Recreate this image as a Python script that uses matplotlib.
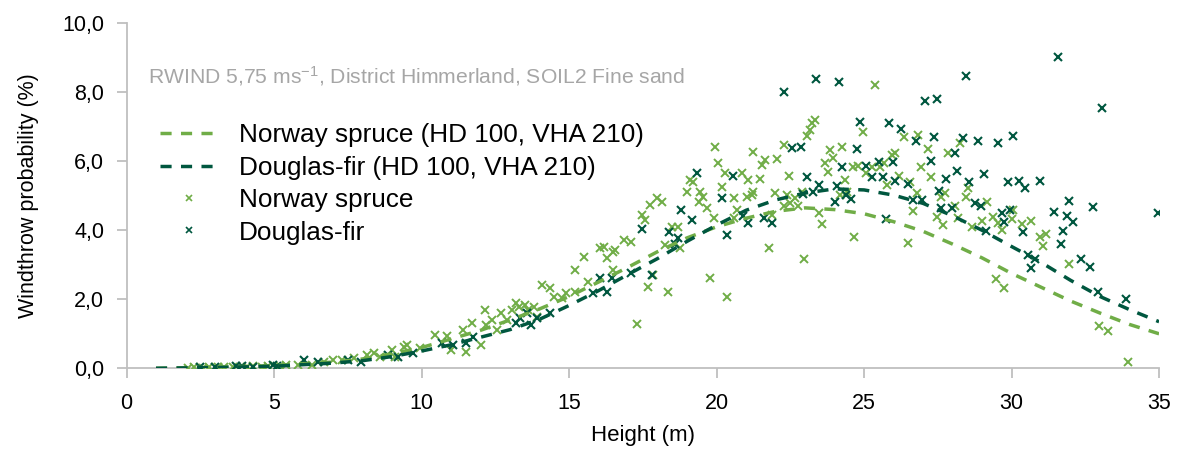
import matplotlib
matplotlib.use("Agg")
import matplotlib.pyplot as plt
from matplotlib.lines import Line2D

plt.rcParams['font.family'] = ['Liberation Sans', 'DejaVu Sans']
plt.rcParams['mathtext.default'] = 'regular'

LIGHT = '#70AD47'
DARK = '#00573F'
GREY = '#BFBFBF'

# fitted curves (HD 100, VHA 210)
curve_h = [1, 3, 5, 7, 8, 9, 10, 11, 12, 13, 14, 15, 16, 17, 18, 19, 20, 21,
           22, 23, 24, 25, 26, 27, 28, 29, 30, 31, 32, 33, 34, 35]
spruce_curve = [0.0, 0.03, 0.08, 0.18, 0.27, 0.42, 0.6, 0.85, 1.1, 1.4, 1.72,
                2.08, 2.5, 2.93, 3.38, 3.78, 4.1, 4.35, 4.55, 4.65, 4.6, 4.48,
                4.25, 3.97, 3.6, 3.2, 2.75, 2.35, 1.95, 1.6, 1.27, 1.0]
fir_curve = [0.0, 0.02, 0.06, 0.15, 0.22, 0.34, 0.5, 0.68, 0.9, 1.12, 1.42,
             1.82, 2.25, 2.72, 3.18, 3.68, 4.15, 4.58, 4.88, 5.08, 5.2, 5.17,
             5.02, 4.78, 4.42, 4.0, 3.53, 3.07, 2.55, 2.08, 1.7, 1.35]

# observed stands, Norway spruce
spruce_h = [2.1, 2.3, 2.6, 2.8, 3.1, 3.3, 3.6, 4.1, 4.3, 4.6, 4.8, 5.2, 5.4,
            5.8, 6.3, 6.7, 7.0, 7.3, 7.7, 8.15, 8.4, 8.6, 9.0, 9.1, 9.4, 9.5,
            9.95, 10.46, 10.86, 11.0,
            11.4, 11.5, 11.7, 12.0, 12.15, 12.2, 12.4, 12.55, 12.7, 12.9,
            13.06, 13.2, 13.3, 13.5, 13.6, 13.8, 13.9, 14.1, 14.36, 14.5,
            14.75, 14.9, 15.2, 15.2, 15.5, 15.65, 16.05, 16.2, 16.3, 16.5,
            16.5,
            16.56, 16.85, 17.1, 17.46, 17.58, 17.75, 17.97, 18.14, 17.68,
            17.85, 17.3, 18.36, 18.26, 18.48, 18.7, 18.76, 19.0, 19.1, 19.2,
            19.44, 19.55, 19.4, 19.67, 19.9, 19.78, 19.95, 20.05, 20.3, 20.2,
            20.37, 20.6, 20.7, 20.85, 21.07, 21.24, 21.24, 21.02, 20.6,
            25.37, 23.34, 23.23, 23.17, 23.06, 24.98, 22.27, 21.65, 21.53,
            22.04, 23.85, 24.24, 23.67, 23.95, 23.78, 22.46, 21.47, 21.2,
            21.98, 22.38, 22.66, 22.5, 22.77, 22.27, 22.89, 21.87, 23.47,
            23.56, 24.36, 24.2, 24.42, 24.67, 24.63, 24.8, 25.07, 25.27,
            25.55, 25.77, 25.94, 26.05, 21.78, 22.98,
            26.84, 26.36, 27.18, 28.25, 27.86, 25.66, 26.94, 27.27, 26.2,
            26.56, 26.79, 27.74, 27.6, 28.54, 28.46, 26.67, 27.46, 27.67,
            28.08, 28.18, 29.16, 28.65, 29.0, 29.38, 29.55, 29.66, 30.0,
            30.06, 30.35, 26.48, 29.46, 29.76,
            30.66, 30.97, 31.16, 31.06, 31.96, 32.97, 33.26, 33.96]
spruce_p = [0.02, 0.03, 0.02, 0.03, 0.04, 0.03, 0.05, 0.05, 0.06, 0.05, 0.08,
            0.06, 0.1, 0.1, 0.1, 0.18, 0.24, 0.24, 0.3, 0.38, 0.44, 0.33,
            0.53, 0.33, 0.62, 0.68, 0.59, 0.97, 0.94, 0.53,
            1.11, 0.48, 1.31, 0.68, 1.69, 1.25, 1.4, 1.11, 1.6, 1.4,
            1.69, 1.89, 1.79, 1.83, 1.69, 1.79, 1.5, 2.41, 2.32, 2.08,
            2.04, 2.18, 2.22, 2.85, 3.23, 2.51, 3.48, 3.52, 3.19, 3.38,
            2.85,
            3.43, 3.72, 3.67, 4.44, 4.3, 4.73, 4.93, 4.83, 2.37,
            2.7, 1.28, 2.22, 3.57, 4.1, 4.1, 3.48, 5.12, 5.46, 5.41,
            5.12, 4.97, 4.83, 4.64, 4.35, 2.61, 6.42, 5.94, 5.65, 5.26,
            2.06, 4.93, 4.6, 5.65, 5.46, 6.28, 5.12, 4.97, 4.35,
            8.21, 7.2, 7.1, 6.9, 6.73, 6.86, 6.47, 6.04, 5.89,
            6.07, 6.33, 6.42, 5.94, 6.1, 5.7, 5.56, 5.49, 5.02,
            5.08, 5.02, 4.93, 4.78, 4.69, 4.69, 5.12, 4.44, 4.51,
            4.18, 5.46, 5.02, 5.12, 3.81, 5.84, 5.86, 5.65, 5.84,
            5.84, 5.31, 6.18, 6.24, 3.5, 3.16,
            6.76, 6.7, 6.35, 6.52, 6.23, 5.94, 5.83, 5.54, 5.57,
            5.41, 5.09, 5.07, 4.96, 5.22, 4.96, 4.57, 4.38, 4.15,
            4.7, 4.35, 4.83, 4.1, 4.27, 4.39, 4.2, 4.01, 4.32,
            4.59, 4.18, 3.62, 2.58, 2.34,
            4.28, 3.81, 3.88, 3.55, 3.01, 1.23, 1.09, 0.19]

# observed stands, Douglas-fir
fir_h = [2.5, 3.0, 3.7, 3.9, 4.3, 4.95, 5.1, 6.0, 6.5, 7.5, 7.95, 8.85, 9.2,
         9.7, 10.7,
         11.07, 11.5, 11.75, 13.2, 13.35, 13.57, 13.7, 13.9, 14.36, 15.8,
         16.05, 16.3, 16.45,
         17.1, 17.8, 17.46, 18.4, 18.7, 18.8, 19.16, 19.33, 20.2, 20.35,
         20.56, 20.9, 21.07, 21.6, 21.87, 18.6,
         22.27, 23.37, 24.15, 24.87, 25.85, 22.55, 22.86, 24.75, 23.06,
         23.47, 23.26, 22.93, 24.07, 24.24, 24.0, 24.4, 24.56, 25.07, 25.5,
         25.27, 25.65, 25.97, 26.05, 25.75,
         28.46, 27.07, 27.46, 26.25, 26.76, 27.37, 28.37, 28.85, 29.55,
         30.06, 28.08, 27.26, 26.48, 28.16, 27.77, 29.08, 28.57, 29.87,
         30.26, 30.46, 27.55, 26.67, 26.98, 27.61, 27.99, 28.76, 28.96,
         29.13, 29.66, 29.95, 29.76, 30.38,
         31.57, 33.06, 30.97, 31.96, 32.77, 31.45, 31.87, 32.07, 31.76,
         31.67, 30.57, 30.8, 30.66, 32.36, 32.66, 32.94, 33.88, 34.96]
fir_p = [0.03, 0.04, 0.06, 0.08, 0.05, 0.1, 0.08, 0.24, 0.18, 0.24, 0.18,
         0.39, 0.33, 0.45, 0.73,
         0.68, 0.73, 0.92, 1.31, 1.45, 1.6, 1.25, 1.45, 1.6, 2.18,
         2.61, 2.22, 2.61,
         2.76, 2.7, 4.05, 3.94, 3.78, 4.59, 4.3, 5.65, 4.93, 3.86,
         5.56, 4.41, 4.22, 4.35, 4.22, 3.6,
         8.02, 8.39, 8.31, 7.14, 7.12, 6.38, 6.42, 6.36, 5.54,
         5.31, 5.12, 5.05, 5.28, 5.83, 4.83, 5.02, 4.9, 5.86, 5.99,
         5.54, 5.54, 5.99, 5.44, 4.33,
         8.48, 7.76, 7.8, 6.94, 6.59, 6.71, 6.67, 6.59, 6.52,
         6.73, 6.25, 6.02, 5.34, 5.72, 5.48, 5.62, 5.39, 5.39,
         5.44, 5.24, 5.14, 4.88, 4.88, 4.64, 4.64, 4.78, 4.69,
         3.98, 4.51, 4.59, 4.23, 3.96,
         9.03, 7.54, 5.43, 4.85, 4.67, 4.54, 4.4, 4.25, 3.99,
         3.6, 3.28, 3.16, 2.9, 3.16, 2.93, 2.22, 2.0, 4.51]

yticks = [0, 2, 4, 6, 8, 10]
xticks = [0, 5, 10, 15, 20, 25, 30, 35]

fig = plt.figure(figsize=(11.79, 4.5), dpi=100)
ax = fig.add_axes([0.1073, 0.1816, 0.8758, 0.7666])

ax.plot(spruce_h, spruce_p, ls='none', marker='x', ms=6.3, mew=1.4,
        color=LIGHT, zorder=3)
ax.plot(fir_h, fir_p, ls='none', marker='x', ms=6.3, mew=1.5,
        color=DARK, zorder=3)
ax.plot(curve_h, spruce_curve, color=LIGHT, lw=2.5, dashes=(3.2, 2.7),
        zorder=4)
ax.plot(curve_h, fir_curve, color=DARK, lw=2.5, dashes=(3.2, 2.7), zorder=4)

ax.set_xlim(0, 35)
ax.set_ylim(0, 10)
ax.set_xticks(xticks)
ax.set_yticks(yticks)
ax.set_yticklabels([f"{v:.1f}".replace('.', ',') for v in yticks])
for side in ['top', 'right']:
    ax.spines[side].set_visible(False)
for side in ['left', 'bottom']:
    ax.spines[side].set_color(GREY)
    ax.spines[side].set_linewidth(1.3)
ax.tick_params(axis='both', colors=GREY, labelcolor='black', labelsize=15.5,
               length=7, width=1.3, direction='out')
ax.tick_params(axis='x', pad=11)
ax.tick_params(axis='y', pad=9)
ax.set_xlabel("Height (m)", fontsize=16, labelpad=8)
ax.set_ylabel("Windthrow probability (%)", fontsize=15.5, labelpad=17)

ax.text(0.021, 0.848, "RWIND 5,75 ms$^{-1}$, District Himmerland, SOIL2 Fine sand",
        transform=ax.transAxes, fontsize=15.2, color='#A6A6A6', va='center')

handles = [
    Line2D([], [], color=LIGHT, lw=2.5, dashes=(3.2, 2.7)),
    Line2D([], [], color=DARK, lw=2.5, dashes=(3.2, 2.7)),
    Line2D([], [], ls='none', marker='x', ms=4, mew=1.2, color=LIGHT),
    Line2D([], [], ls='none', marker='x', ms=4, mew=1.2, color=DARK),
]
labels = ["Norway spruce (HD 100, VHA 210)", "Douglas-fir (HD 100, VHA 210)",
          "Norway spruce", "Douglas-fir"]
ax.legend(handles, labels, loc='upper left', bbox_to_anchor=(0.022, 0.74),
          frameon=False, fontsize=18.8, handlelength=2.26, handletextpad=0.78,
          labelspacing=0.32, borderaxespad=0)

fig.savefig("out.png", dpi=100)
